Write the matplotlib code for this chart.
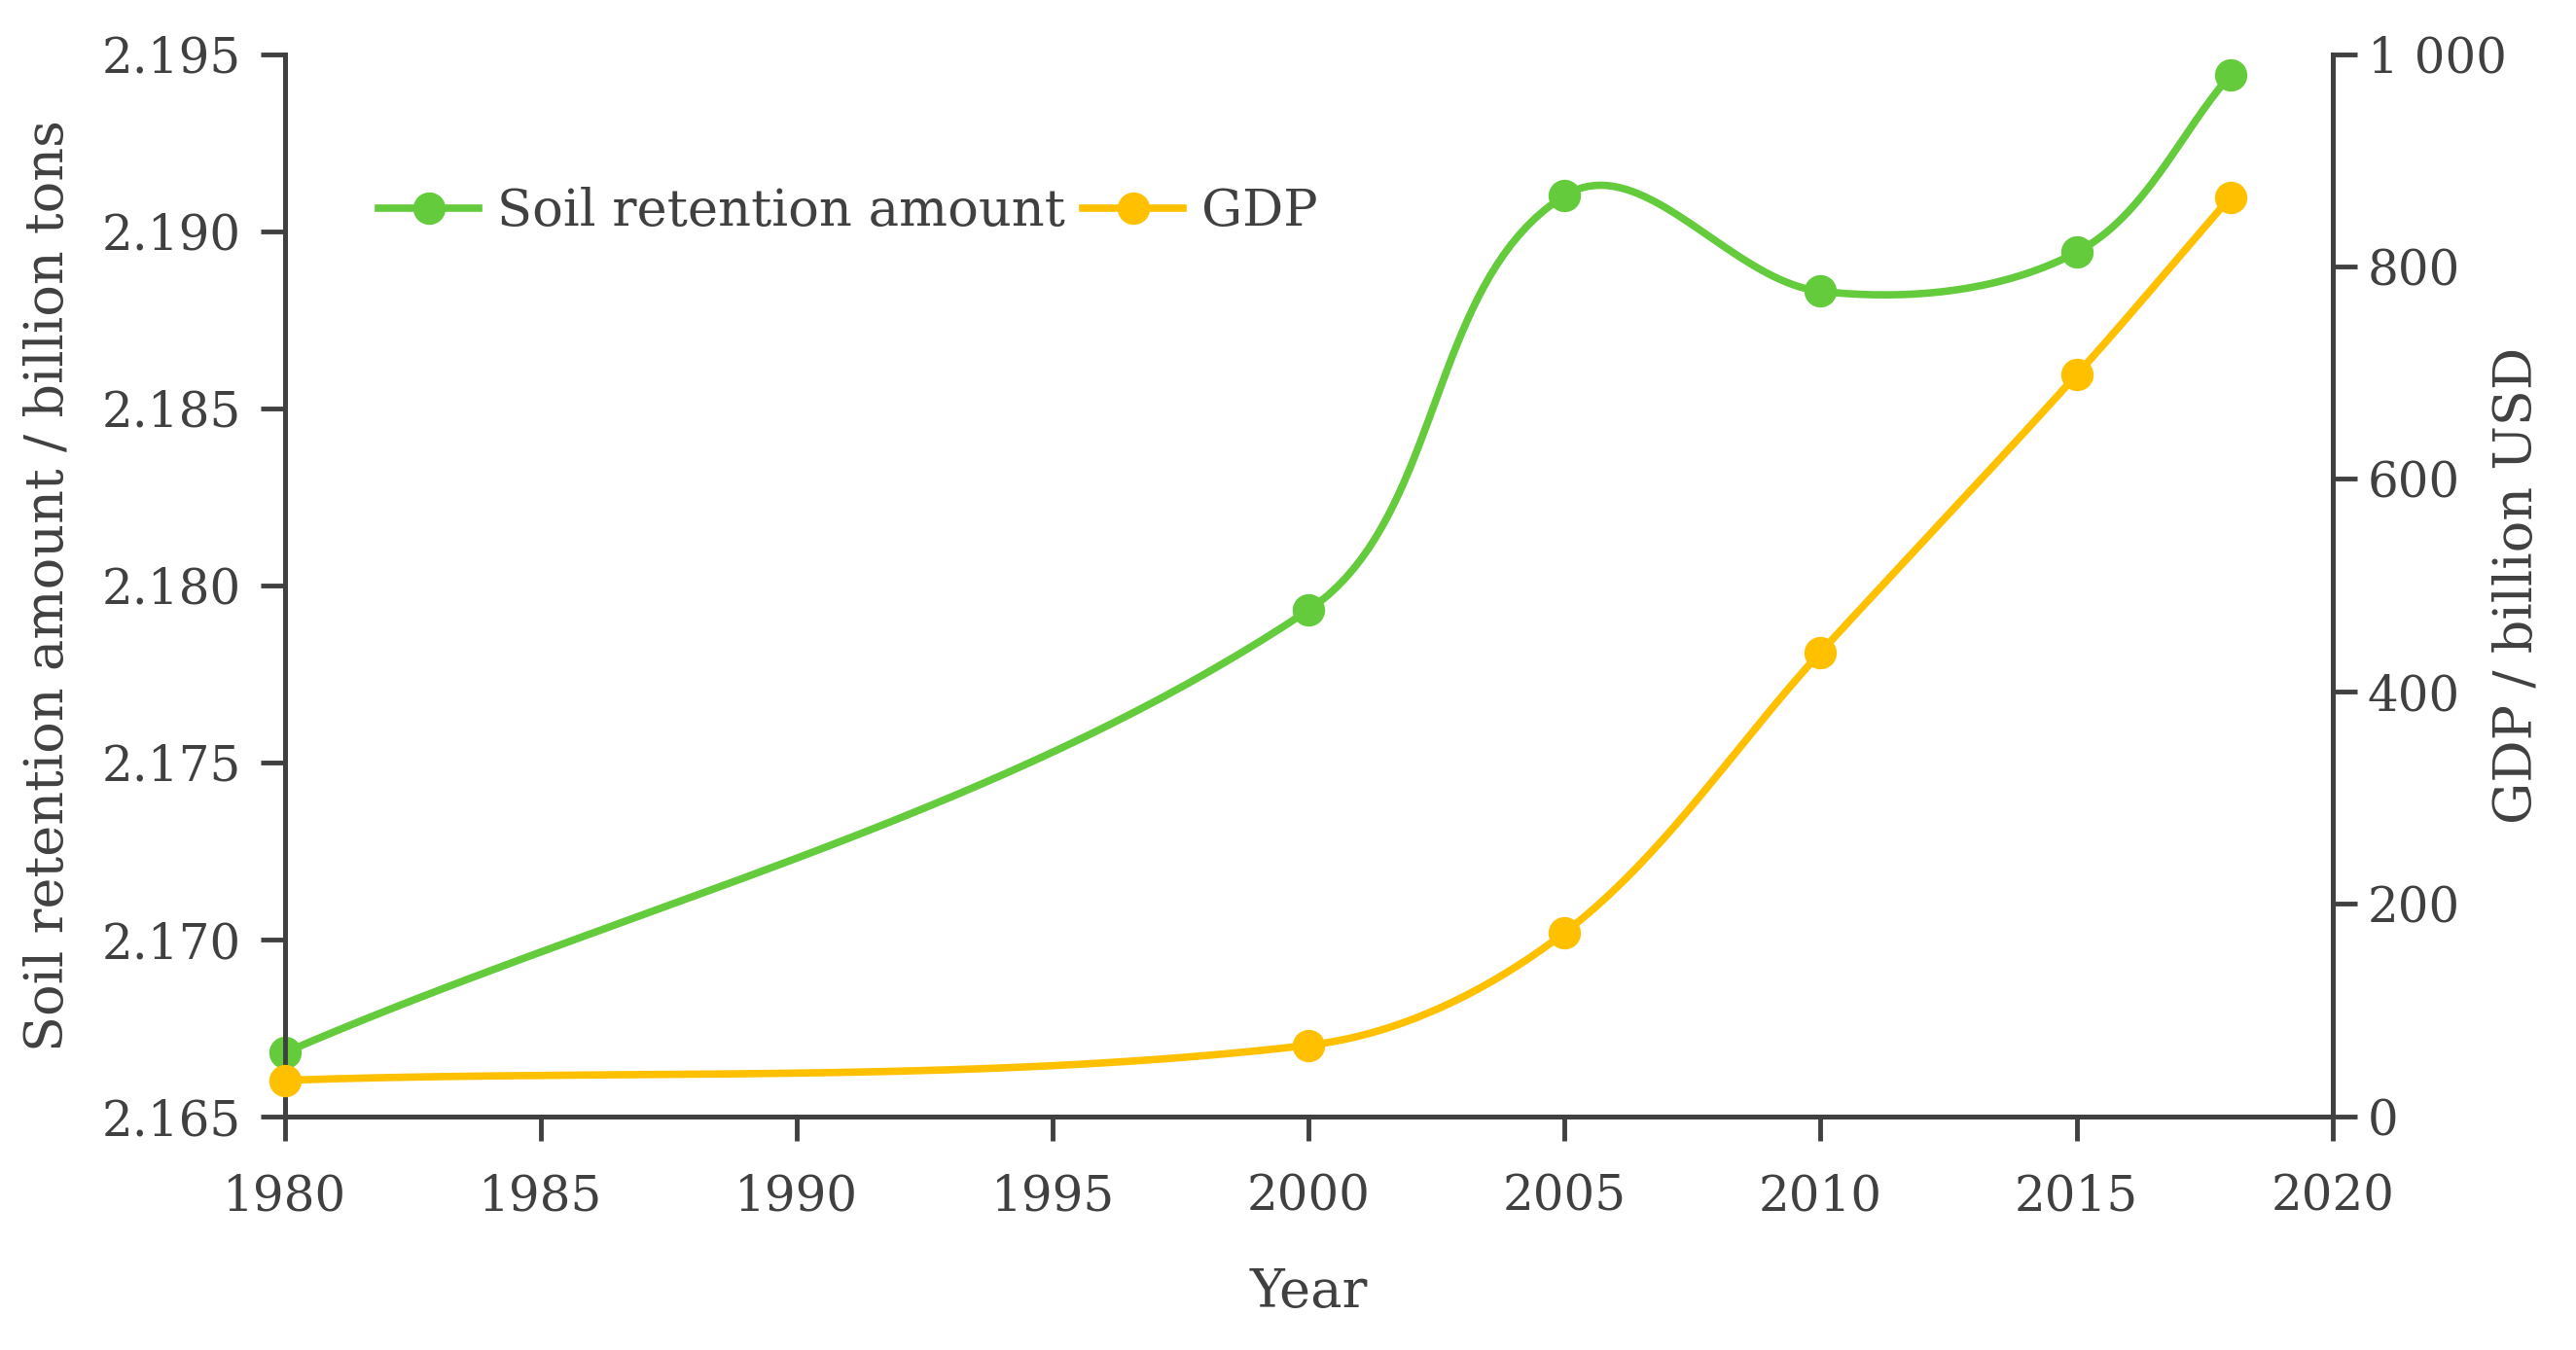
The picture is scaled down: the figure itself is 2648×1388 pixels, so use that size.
import numpy as np
import matplotlib.pyplot as plt

years = [1980, 2000, 2005, 2010, 2015, 2018]
soil = [2.1668, 2.1793, 2.1910, 2.1883, 2.1894, 2.1944]
gdp = [34, 67, 173, 437, 698, 865]

xlim = (1980, 2020)
soil_lim = (2.165, 2.195)
gdp_lim = (0, 1000)

green = '#63CB3C'
orange = '#FFC000'
grey = '#404040'


def smooth(xs, ys, xr, yr, w=2105, h=1092, n=40):
    # smoothed line: bezier in screen space, tangent from neighbours,
    # control length scaled to the segment
    px = (np.array(xs) - xr[0]) / (xr[1] - xr[0]) * w
    py = (np.array(ys) - yr[0]) / (yr[1] - yr[0]) * h
    p = np.column_stack([px, py])
    m = len(p)
    tang = []
    for i in range(m):
        a = p[max(i - 1, 0)]
        b = p[min(i + 1, m - 1)]
        d = b - a
        tang.append(d / np.hypot(*d))
    out = [p[0]]
    for i in range(m - 1):
        L = np.hypot(*(p[i + 1] - p[i]))
        c1 = p[i] + tang[i] * L / 3
        c2 = p[i + 1] - tang[i + 1] * L / 3
        t = np.linspace(0, 1, n)[1:, None]
        seg = ((1 - t) ** 3 * p[i] + 3 * (1 - t) ** 2 * t * c1
               + 3 * (1 - t) * t ** 2 * c2 + t ** 3 * p[i + 1])
        out.extend(seg)
    out = np.array(out)
    return (out[:, 0] / w * (xr[1] - xr[0]) + xr[0],
            out[:, 1] / h * (yr[1] - yr[0]) + yr[0])


plt.rcParams['font.family'] = ['DejaVu Serif']
plt.rcParams['font.size'] = 36
plt.rcParams['text.color'] = grey

fig = plt.figure(figsize=(26.48, 13.88), dpi=100)
ax = fig.add_axes([0.1105, 0.173, 0.795, 0.787])
ax2 = ax.twinx()

sx, sy = smooth(years, soil, xlim, soil_lim)
gx, gy = smooth(years, gdp, xlim, gdp_lim)

ax.plot(sx, sy, color=green, lw=5.5, zorder=3, clip_on=False)
ax.plot(years, soil, 'o', color=green, ms=23, zorder=4, clip_on=False)
ax2.plot(gx, gy, color=orange, lw=5.5, zorder=3, clip_on=False)
ax2.plot(years, gdp, 'o', color=orange, ms=23, zorder=4, clip_on=False)

ax.set_xlim(*xlim)
ax.set_ylim(*soil_lim)
ax2.set_ylim(*gdp_lim)
ax.set_xticks(range(1980, 2021, 5))
soil_ticks = np.arange(2.165, 2.1951, 0.005)
ax.set_yticks(soil_ticks)
ax.set_yticklabels(['%.3f' % v for v in soil_ticks])
ax2.set_yticks(range(0, 1001, 200))
ax2.set_yticklabels(['0', '200', '400', '600', '800', '1 000'])

for a in (ax, ax2):
    for s in a.spines.values():
        s.set_color(grey)
        s.set_linewidth(3.5)
    a.spines['top'].set_visible(False)
    a.tick_params(direction='out', length=18, width=3.5, color=grey,
                  labelcolor=grey, labelsize=36, pad=8)
ax.tick_params(axis='x', pad=24)
ax.tick_params(axis='y', pad=14)

ax.set_xlabel('Year', color=grey, fontsize=39)
ax.xaxis.set_label_coords(0.5, -0.142)
ax.set_ylabel('Soil retention amount / billion tons', color=grey, fontsize=39)
ax.yaxis.set_label_coords(-0.103, 0.5)
ax2.set_ylabel('GDP / billion USD', color=grey, fontsize=39)
ax2.yaxis.set_label_coords(1.078, 0.5)

h1 = plt.Line2D([], [], color=green, lw=5.5, marker='o', ms=23)
h2 = plt.Line2D([], [], color=orange, lw=5.5, marker='o', ms=23)
ax2.legend([h1, h2], ['Soil retention amount', 'GDP'], ncol=2, frameon=False,
           loc='upper left', bbox_to_anchor=(0.046, 0.875), fontsize=38,
           handlelength=1.95, columnspacing=0.35, handletextpad=0.35,
           borderpad=0, borderaxespad=0)

fig.savefig('out.png', dpi=100)
